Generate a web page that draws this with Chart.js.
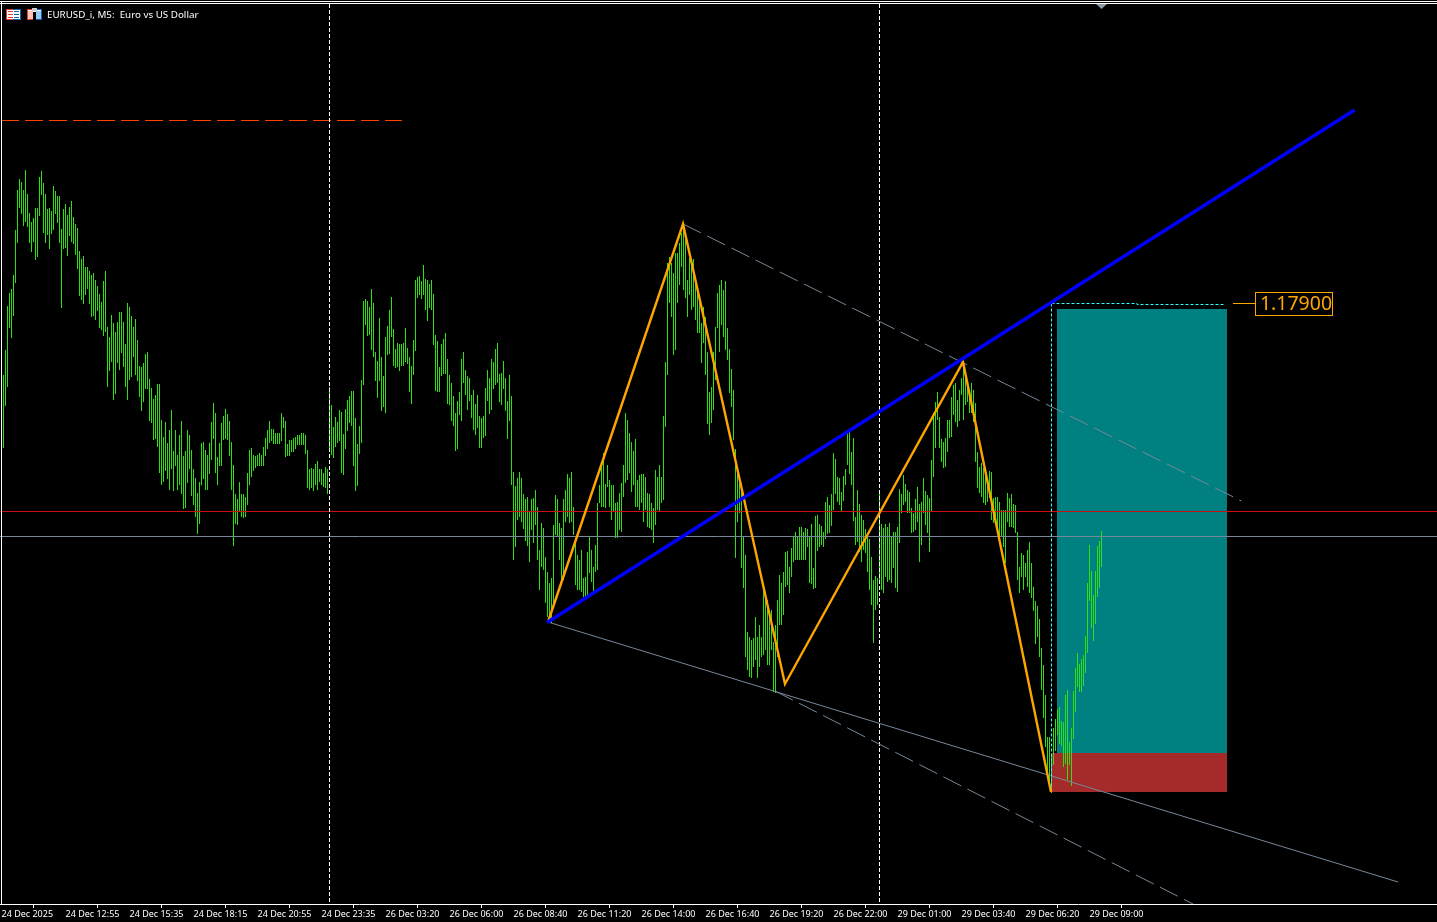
<!DOCTYPE html>
<html>
<head>
<meta charset="utf-8">
<style>html,body{margin:0;padding:0;background:#000;overflow:hidden}canvas{display:block}</style>
<script src="https://cdn.jsdelivr.net/npm/chart.js@4/dist/chart.umd.js"></script>
</head>
<body>
<canvas id="c" width="1437" height="922"></canvas>
<script>
const titleText = "EURUSD_i, M5:  Euro vs US Dollar";
const targetLabel = "1.17900";
const tickBars = [0,32,64,96,128,160,192,224,256,288,320,352,384,416,448,480,512,544];
const tickLabels = ["24 Dec 2025","24 Dec 12:55","24 Dec 15:35","24 Dec 18:15","24 Dec 20:55","24 Dec 23:35","26 Dec 03:20","26 Dec 06:00","26 Dec 08:40","26 Dec 11:20","26 Dec 14:00","26 Dec 16:40","26 Dec 19:20","26 Dec 22:00","29 Dec 01:00","29 Dec 03:40","29 Dec 06:20","29 Dec 09:00"];
// all prices below are points above 1.17000; bars are numbered from 1
const highPoints = [
829,854,898,911,915,929,974,1014,1025,1022,1014,1034,1010,991,982,986,996,996,1027,1033,
1021,1010,995,996,993,1018,1013,1008,1008,975,995,1000,989,997,1003,987,980,976,953,945,
948,937,937,933,929,931,924,918,910,902,923,933,877,867,889,881,872,882,892,892,
882,860,901,897,888,877,885,864,838,837,841,850,852,825,816,805,809,820,820,784,
767,782,761,774,794,753,774,749,769,783,748,753,774,769,754,735,726,711,722,761,
762,754,749,761,782,801,791,747,761,781,788,795,790,783,762,739,710,705,722,710,
710,707,731,754,756,749,748,749,751,749,757,766,774,783,775,775,771,771,771,791,
787,783,760,764,764,766,767,769,769,771,771,769,754,735,736,735,740,743,735,735,
731,737,735,817,799,777,787,782,794,792,770,795,804,808,813,813,786,760,778,824,
903,905,903,897,915,901,852,843,886,847,828,867,878,894,907,875,855,861,860,860,
861,876,856,847,838,864,924,927,928,923,939,925,924,920,924,910,869,863,837,860,
865,871,845,829,821,808,791,803,812,845,852,834,828,826,809,814,800,809,788,786,
788,816,834,826,845,842,855,861,830,831,843,826,803,829,808,732,718,726,732,726,
710,705,707,693,705,706,714,697,654,681,676,647,632,621,626,679,709,705,681,676,
705,714,730,726,732,697,664,649,644,654,626,627,652,667,654,637,659,701,719,739,
751,720,739,724,719,719,701,702,711,721,739,791,784,771,762,753,765,724,729,730,
730,727,711,710,701,696,734,727,739,727,788,842,941,947,941,931,951,951,961,971,
979,971,924,946,942,945,922,914,909,881,897,887,852,812,817,852,877,911,919,924,
914,923,876,855,835,814,755,736,727,721,667,649,572,567,564,566,587,567,579,567,
619,611,604,587,594,562,579,604,629,621,632,652,653,637,656,667,672,667,677,677,
672,676,675,667,680,636,688,689,680,678,672,702,707,699,710,751,745,727,726,712,
728,735,772,775,752,766,687,714,700,689,684,675,671,665,647,624,628,626,713,680,
676,680,677,681,667,672,672,677,715,710,729,720,714,712,696,691,705,717,700,702,
726,713,709,706,744,791,802,812,787,765,762,766,784,784,807,819,821,804,814,826,
839,831,821,814,821,814,801,752,737,741,736,736,722,733,732,706,707,707,702,694,
694,694,711,706,710,700,699,672,637,651,649,641,654,662,641,617,603,598,585,556,
539,509,467,467,449,476,485,495,497,483,482,509,514,462,476,513,536,551,540,545,
549,568,621,659,633,609,633,658,663,673];
const lowPoints = [
756,798,817,876,866,888,921,961,996,990,978,982,977,961,952,962,944,947,988,1009,
971,961,969,955,970,974,990,981,961,896,955,956,948,968,962,960,949,935,908,904,
900,909,915,900,887,888,884,893,876,874,868,872,817,833,842,804,810,841,834,851,
837,817,804,824,827,847,829,823,807,793,802,815,815,783,781,764,765,757,731,719,
722,733,725,714,735,713,738,714,719,710,695,696,721,735,708,699,687,670,680,719,
725,714,714,730,744,765,731,719,738,738,764,765,764,748,714,658,680,679,693,687,
686,687,699,719,727,733,736,738,738,738,738,748,755,761,763,760,760,760,760,763,
776,747,748,748,752,752,755,759,759,759,759,750,716,714,716,713,719,714,722,719,
717,716,710,752,749,746,757,761,763,731,729,755,773,781,778,738,713,718,750,761,
819,879,868,869,854,847,823,806,823,793,797,791,849,850,867,838,836,837,833,838,
838,842,840,812,800,829,853,906,909,905,909,894,883,896,894,859,813,812,812,828,
830,830,800,799,783,778,753,755,789,783,821,809,794,803,786,774,769,776,756,756,
766,768,803,790,794,815,819,821,802,799,815,793,765,783,719,644,657,684,687,682,
675,663,658,642,674,661,679,644,614,637,634,601,587,584,581,601,669,667,644,624,
624,682,687,681,682,669,619,614,614,612,607,607,607,631,622,612,632,634,701,697,
697,696,717,697,684,692,666,666,674,672,707,721,724,731,712,719,697,697,694,701,
682,694,677,676,674,661,679,694,692,701,704,777,829,901,887,849,854,901,919,937,
914,906,887,909,894,897,884,871,871,841,861,829,780,769,781,794,824,876,852,879,
867,854,844,811,797,764,646,682,691,636,616,547,534,527,526,537,544,526,537,547,
549,554,539,539,554,512,511,547,579,579,589,617,619,611,627,642,644,644,644,644,
644,644,657,621,620,615,616,653,657,659,657,665,670,671,678,694,710,702,699,693,
703,719,739,730,719,683,659,662,652,642,654,651,632,614,599,561,594,599,622,614,
611,627,622,624,621,636,616,612,661,691,699,702,691,691,671,672,674,682,642,659,
691,679,671,652,692,727,756,784,756,742,736,737,752,766,767,789,782,777,783,809,
784,799,802,791,791,782,742,716,711,707,701,699,702,706,684,681,679,676,667,667,
657,641,682,677,677,676,671,624,611,627,614,627,617,611,606,593,560,567,547,514,
486,457,429,417,411,439,453,469,460,458,437,440,424,439,418,465,492,517,512,512,
518,531,551,603,576,563,580,607,616,637];
const zigzagBars = [273.25,340.75,391.75,480.75,524.75];
const zigzagPoints = [582,980,520,842,412];
const necklineBars = [272.75,676.5];
const necklinePoints = [581.5,1094];
const upperBars = [340.75,620];
const upperPoints = [980,703];
const lowerBars = [273.25,698.25];
const lowerPoints = [582,322];
const steepBars = [386.75,595.75];
const steepPoints = [513,300];
const topDashBars = [-0.25,200.25];
const topDashPoints = [1083.5,1083.5];
const chartBars = [-0.75,717.75];
const redLinePoint = 692.5;
const grayLinePoint = 667.5;
const separatorBars = [164,439];
const separatorPoints = [1200,300];
const entryBar = 525;
const entryPoints = [900.5,412];
const targetLineBars = [525,567.75,567.75,611.75];
const targetLinePoints = [900.5,900.5,899.5,899.5];
const connectorBars = [615.75,626.75];
const connectorPoint = 900.5;
const profitBars = [527.75,612.75];
const profitTop = 895;
const profitBottom = 451;
const lossBars = [524.75,612.75];
const lossTop = 451;
const lossBottom = 412;
const labelAnchorBar = 626.75;
const labelAnchorPoint = 900;

const price = p => 1.17 + p / 100000;
const pts = (xs, ys) => xs.map((x, i) => ({x, y: price(ys[i])}));
const lineDs = (xs, ys, color, width, dash, order) => ({
  type: 'line', data: pts(xs, ys), borderColor: color, borderWidth: width,
  borderDash: dash || [], pointRadius: 0, tension: 0, fill: false, order,
  borderCapStyle: 'butt', borderJoinStyle: 'miter'
});
const zoneDs = (xs, top, bottom, color, order) => ({
  type: 'line', data: xs.map(x => ({x, y: price(top)})), borderWidth: 0,
  backgroundColor: color, pointRadius: 0, tension: 0, order,
  fill: {value: price(bottom)}
});

const decor = {
  id: 'decor',
  afterDraw(chart) {
    const c = chart.ctx, xs = chart.scales.x, ys = chart.scales.y;
    c.save();
    c.fillStyle = '#fff';
    c.fillRect(0, 1, 1437, 1); c.fillRect(0, 3, 1437, 1);
    c.fillRect(1, 1, 1, 903);
    // shift marker
    c.fillStyle = '#8a9aaa';
    c.beginPath(); c.moveTo(1096, 4); c.lineTo(1107, 4); c.lineTo(1101.5, 9); c.closePath(); c.fill();
    // toolbar icons
    const icon = (x, y) => {
      c.fillStyle = '#e04030'; c.fillRect(x, y, 7, 11);
      c.fillStyle = '#1060b0'; c.fillRect(x + 7, y, 8, 11);
      c.fillStyle = '#fff'; c.fillRect(x + 1, y + 1, 13, 9);
    };
    icon(6, 9);
    c.fillStyle = '#e04030'; c.fillRect(8, 11, 5, 1); c.fillRect(8, 14, 5, 1); c.fillRect(8, 17, 5, 1);
    c.fillStyle = '#1060b0'; c.fillRect(14, 11, 5, 1); c.fillRect(14, 14, 5, 1); c.fillRect(14, 17, 5, 1);
    icon(27, 9);
    c.fillStyle = '#ffc4b8'; c.fillRect(28, 11, 5, 8);
    c.fillStyle = '#98ccf4'; c.fillRect(36, 11, 5, 8);
    c.fillStyle = '#000'; c.fillRect(33, 12, 3, 8);
    c.fillStyle = '#ccc'; c.fillRect(32, 8, 5, 3);
    // title
    c.fillStyle = '#fff';
    c.font = '9.8px "Noto Sans"'; c.textBaseline = 'middle'; c.textAlign = 'left';
    c.fillText(titleText, 47, 15);
    // target label
    const lx = Math.round(xs.getPixelForValue(labelAnchorBar));
    const ly = Math.round(ys.getPixelForValue(price(labelAnchorPoint)));
    c.strokeStyle = '#ffa500'; c.lineWidth = 1;
    c.strokeRect(lx + 0.5, ly - 11.5, 77, 23);
    c.fillStyle = '#ffa500';
    c.font = '19.5px "Noto Sans"'; c.textAlign = 'center';
    c.fillText(targetLabel, lx + 41, ly);
    c.restore();
  }
};

const datasets = [
  zoneDs(profitBars, profitTop, profitBottom, '#008080', 20),
  zoneDs(lossBars, lossTop, lossBottom, '#a52a2a', 19),
  {
    type: 'bar', label: 'EURUSD_i',
    data: highPoints.map((h, i) => ({x: i + 1, y: [price(lowPoints[i]), price(h)]})),
    backgroundColor: '#2ee012', borderWidth: 0, barThickness: 1, grouped: false,
    inflateAmount: 0, order: 15
  },
  lineDs(chartBars, [redLinePoint, redLinePoint], '#cc1010', 1, null, 12),
  lineDs(chartBars, [grayLinePoint, grayLinePoint], '#778899', 1, null, 12),
  lineDs([separatorBars[0], separatorBars[0]], separatorPoints, '#ffffff', 1, [4, 2], 11),
  lineDs([separatorBars[1], separatorBars[1]], separatorPoints, '#ffffff', 1, [4, 2], 11),
  lineDs(topDashBars, topDashPoints, '#ff4000', 1, [18, 6], 11),
  lineDs(upperBars, upperPoints, '#778899', 1, [20, 7], 10),
  lineDs(steepBars, steepPoints, '#778899', 1, [20, 7], 10),
  lineDs(lowerBars, lowerPoints, '#778899', 1, null, 10),
  lineDs([entryBar, entryBar], entryPoints, '#33ffff', 1, [3, 2], 9),
  lineDs(targetLineBars, targetLinePoints, '#33ffff', 1, [3, 2], 9),
  lineDs(connectorBars, [connectorPoint, connectorPoint], '#ffa500', 1, null, 9),
  lineDs(zigzagBars, zigzagPoints, '#ffa500', 2.4, null, 8),
  lineDs(necklineBars, necklinePoints, '#0000ff', 3.4, null, 7)
];

new Chart(document.getElementById('c'), {
  type: 'bar',
  data: {datasets},
  plugins: [decor],
  options: {
    responsive: false, animation: false, devicePixelRatio: 1,
    layout: {padding: 0},
    plugins: {legend: {display: false}, tooltip: {enabled: false}, title: {display: false}},
    events: [],
    scales: {
      x: {
        type: 'linear', position: 'bottom', min: chartBars[0], max: chartBars[1], offset: false,
        afterBuildTicks: s => { s.ticks = tickBars.map(v => ({value: v})); },
        afterFit: s => { s.height = 18; s.paddingLeft = 0; s.paddingRight = 0; },
        border: {display: true, color: '#ffffff', width: 1},
        grid: {display: true, drawOnChartArea: false, drawTicks: true, tickLength: 4, color: '#ffffff'},
        ticks: {
          align: 'start', autoSkip: false, maxRotation: 0, minRotation: 0, padding: 1, color: '#ffffff',
          font: {family: '"Noto Sans"', size: 9},
          callback: v => tickLabels[tickBars.indexOf(v)]
        }
      },
      y: {type: 'linear', display: false, min: price(300), max: price(1204)}
    }
  }
});
</script>
</body>
</html>
